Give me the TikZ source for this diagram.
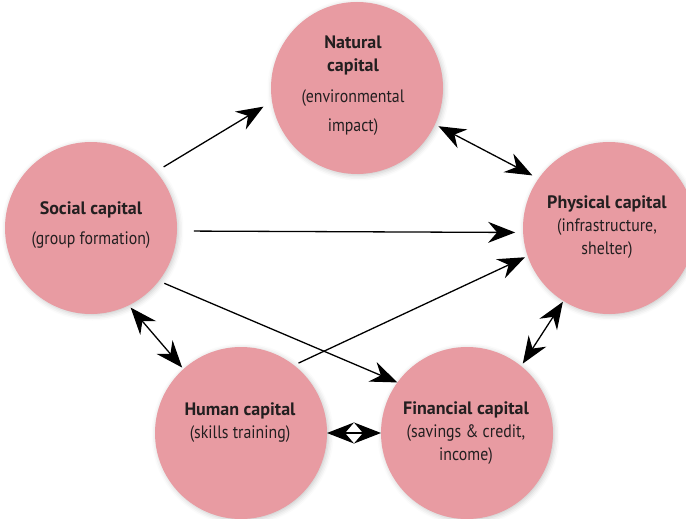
\documentclass[tikz,border=0pt]{standalone}
\usepackage{fontspec}
\setmainfont{PT Sans}
\newfontfamily\condfont{PT Sans}[FakeStretch=0.88]
\usetikzlibrary{arrows.meta,shadows.blur}
\definecolor{capfill}{RGB}{232,155,162}
\definecolor{captextcol}{RGB}{35,31,32}
\tikzset{
  capnode/.style={circle,fill=capfill,minimum size=172pt,inner sep=0pt,outer sep=0pt,
    blur shadow={shadow xshift=1.5pt,shadow yshift=-1.5pt,shadow blur radius=5pt,shadow opacity=22}},
  captxt/.style={text=captextcol,font=\fontsize{18pt}{23pt}\selectfont,align=center,inner sep=0pt},
  bigtip/.tip={Stealth[length=27pt,width=21pt,inset=9pt]},
  conn/.style={line width=1.3pt,draw=black,-bigtip},
  biconn/.style={line width=1.3pt,draw=black,bigtip-bigtip},
}
\begin{document}
\begin{tikzpicture}[x=1pt,y=-1pt]
\useasboundingbox (0,0) rectangle (686,519);
\node[capnode] (nat) at (357,88) {};
\node[capnode] (soc) at (91,228) {};
\node[capnode] (phy) at (609,228) {};
\node[capnode] (hum) at (241,433) {};
\node[capnode] (fin) at (467,433) {};

\node[captxt] (natT) at (353,86) {\textbf{Natural}\\\textbf{capital}\\[8pt]{\condfont (environmental}\\[6pt]{\condfont impact)}};
\node[captxt] (socT) at (91,225) {\textbf{Social capital}\\[7pt]{\condfont (group formation)}};
\node[captxt] (phyT) at (607,227) {\textbf{Physical capital}\\{\condfont (infrastructure,}\\{\condfont shelter)}};
\node[captxt] (humT) at (240,423) {\textbf{Human capital}\\{\condfont (skills training)}};
\node[captxt] (finT) at (466,433) {\textbf{Financial capital}\\{\condfont (savings \& credit,}\\{\condfont income)}};

\draw[conn] (soc.41.6) [shorten <=9pt, shorten >=10pt] -- (nat.189.6);
\draw[biconn] (nat.-25.7) [shorten <=4pt, shorten >=7pt] -- (phy.145.5);
\draw[conn] (soc.-2.8) [shorten <=17pt, shorten >=8pt] -- (phy.183);
\draw[conn] (soc.-38.4) [shorten <=6pt] -- (fin.144.5);
\draw[conn] (hum.52) [shorten <=5pt, shorten >=3pt] -- (phy.199);
\draw[biconn] (soc.-64.9) [shorten <=3pt, shorten >=2pt] -- (hum.132);
\draw[biconn] (phy.238) [shorten <=1pt, shorten >=3pt] -- (fin.51);
\draw[biconn] (hum.0) -- (fin.180);
\end{tikzpicture}
\end{document}
